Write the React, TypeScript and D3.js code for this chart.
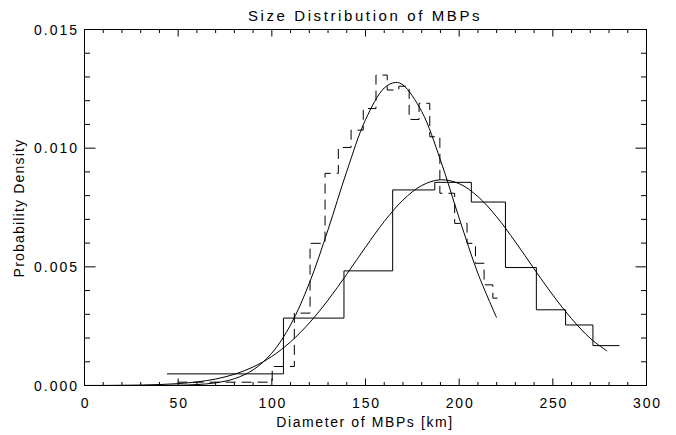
import React from "react";
import * as d3 from "d3";

// ---- data ----
const xTickValues = [0, 50, 100, 150, 200, 250, 300];
const yTickValues = [0.0, 0.005, 0.01, 0.015];
const yTickLabels = ["0.000", "0.005", "0.010", "0.015"];

// coarse histogram (solid)
const solidEdges = [44, 106.2, 138.5, 164.5, 187, 206.5, 224.7, 241.2, 256.8, 271.4, 285.6];
const solidDensity = [0.00049, 0.00284, 0.00483, 0.00824, 0.00856, 0.00773, 0.00497, 0.00319, 0.00255, 0.00168];

// fine histogram (dashed)
const dashedEdges = [49.7, 100.2, 112, 120.4, 128.4, 135.5, 142.3, 148.8, 155.6, 161.6, 167.8, 173.3, 178.6, 184.3, 189.7, 197.6, 204.2, 208.7, 213.3, 218, 220.5];
const dashedDensity = [0.00014, 0.0008, 0.00305, 0.00599, 0.00894, 0.01003, 0.01076, 0.01167, 0.01308, 0.01245, 0.01261, 0.01121, 0.01189, 0.01048, 0.0081, 0.00683, 0.00599, 0.00515, 0.00424, 0.00368];

// narrow fitted curve
const narrowX = [0, 10, 20, 30, 40, 50, 60, 70, 80, 90, 100, 110, 120, 130, 140, 150, 160, 166, 170, 180, 190, 200, 210, 220];
const narrowY = [0, 0, 0.0000002, 0.000001, 0.0000037, 0.0000127, 0.0000398, 0.000112, 0.000286, 0.000657, 0.001364, 0.002551, 0.004307, 0.006564, 0.009025, 0.011197, 0.012536, 0.01277, 0.012665, 0.011547, 0.0095, 0.007053, 0.004725, 0.002857];

// wide fitted curve
const wideX = [0, 10, 20, 30, 40, 50, 60, 70, 80, 90, 100, 110, 120, 130, 140, 150, 160, 170, 180, 190, 200, 210, 220, 230, 240, 250, 260, 270, 279];
const wideY = [0.0000016, 0.0000038, 0.0000087, 0.000019, 0.0000396, 0.000079, 0.00015, 0.000273, 0.000472, 0.000779, 0.001225, 0.00184, 0.002635, 0.003599, 0.00469, 0.005828, 0.006909, 0.007812, 0.008425, 0.008668, 0.008505, 0.007961, 0.007108, 0.006053, 0.004916, 0.003809, 0.002815, 0.001984, 0.00145];

const W = 676;
const H = 435;
const L = 84.5, R = 646.5, T = 29.5, B = 385.5;
const FONT = "'Liberation Sans', Arial, sans-serif";

export default function App() {
  const x = d3.scaleLinear().domain([0, 300]).range([L, R]);
  const y = d3.scaleLinear().domain([0, 0.015]).range([B, T]);

  const stepLine = d3
    .line<[number, number]>()
    .x((d) => x(d[0]))
    .y((d) => y(d[1]))
    .curve(d3.curveStepAfter);

  const histPts = (edges: number[], dens: number[]): [number, number][] => {
    const pts: [number, number][] = dens.map((v, i) => [edges[i], v]);
    pts.push([edges[edges.length - 1], dens[dens.length - 1]]);
    return pts;
  };

  const smooth = d3
    .line<[number, number]>()
    .x((d) => x(d[0]))
    .y((d) => y(d[1]))
    .curve(d3.curveCatmullRom);

  const narrowPts: [number, number][] = narrowX.map((v, i) => [v, narrowY[i]]);
  const widePts: [number, number][] = wideX.map((v, i) => [v, wideY[i]]);

  const xMinor = x.ticks(30);
  const yMinor = y.ticks(15);

  const xMajLen = 7, xMinLen = 3.5, yMajLen = 11, yMinLen = 5.5;

  return (
    <svg
      width={W}
      height={H}
      style={{ position: "absolute", left: 0, top: 0, background: "#fff" }}
      fontFamily={FONT}
    >
      <rect x={0} y={0} width={W} height={H} fill="#fff" />
      {/* title */}
      <text x={365} y={20.5} textAnchor="middle" fontSize={15} letterSpacing={2.6} fill="#000">
        Size Distribution of MBPs
      </text>
      {/* frame */}
      <rect x={L} y={T} width={R - L} height={B - T} fill="none" stroke="#000" strokeWidth={1} />
      {/* x ticks */}
      {xMinor.map((t) => {
        const major = xTickValues.includes(t);
        const len = major ? xMajLen : xMinLen;
        return (
          <g key={"xt" + t}>
            <line x1={x(t)} x2={x(t)} y1={B} y2={B - len} stroke="#000" />
            <line x1={x(t)} x2={x(t)} y1={T} y2={T + len} stroke="#000" />
          </g>
        );
      })}
      {yMinor.map((t, i) => {
        const major = i % 5 === 0;
        const len = major ? yMajLen : yMinLen;
        return (
          <g key={"yt" + i}>
            <line x1={L} x2={L + len} y1={y(t)} y2={y(t)} stroke="#000" />
            <line x1={R} x2={R - len} y1={y(t)} y2={y(t)} stroke="#000" />
          </g>
        );
      })}
      {xTickValues.map((t) => (
        <text key={"xl" + t} x={x(t) + 1} y={408.3} textAnchor="middle" fontSize={14} letterSpacing={1.8} fill="#000">
          {String(t)}
        </text>
      ))}
      {yTickValues.map((t, i) => (
        <text key={"yl" + i} x={77 + 2} y={y(t) + 5} textAnchor="end" fontSize={14} letterSpacing={2} fill="#000">
          {yTickLabels[i]}
        </text>
      ))}
      {/* axis titles */}
      <text x={365} y={426.5} textAnchor="middle" fontSize={14} letterSpacing={1.6} fill="#000">
        Diameter of MBPs [km]
      </text>
      <text
        transform={`translate(24,208) rotate(-90)`}
        textAnchor="middle"
        fontSize={14}
        letterSpacing={1.2}
        fill="#000"
      >
        Probability Density
      </text>
      {/* histograms */}
      <path d={stepLine(histPts(solidEdges, solidDensity)) || ""} fill="none" stroke="#000" strokeWidth={1} />
      <path
        d={stepLine(histPts(dashedEdges, dashedDensity)) || ""}
        fill="none"
        stroke="#000"
        strokeWidth={1}
        strokeDasharray="10,6"
      />
      {/* fitted curves */}
      <path d={smooth(narrowPts) || ""} fill="none" stroke="#000" strokeWidth={1} />
      <path d={smooth(widePts) || ""} fill="none" stroke="#000" strokeWidth={1} />
    </svg>
  );
}
